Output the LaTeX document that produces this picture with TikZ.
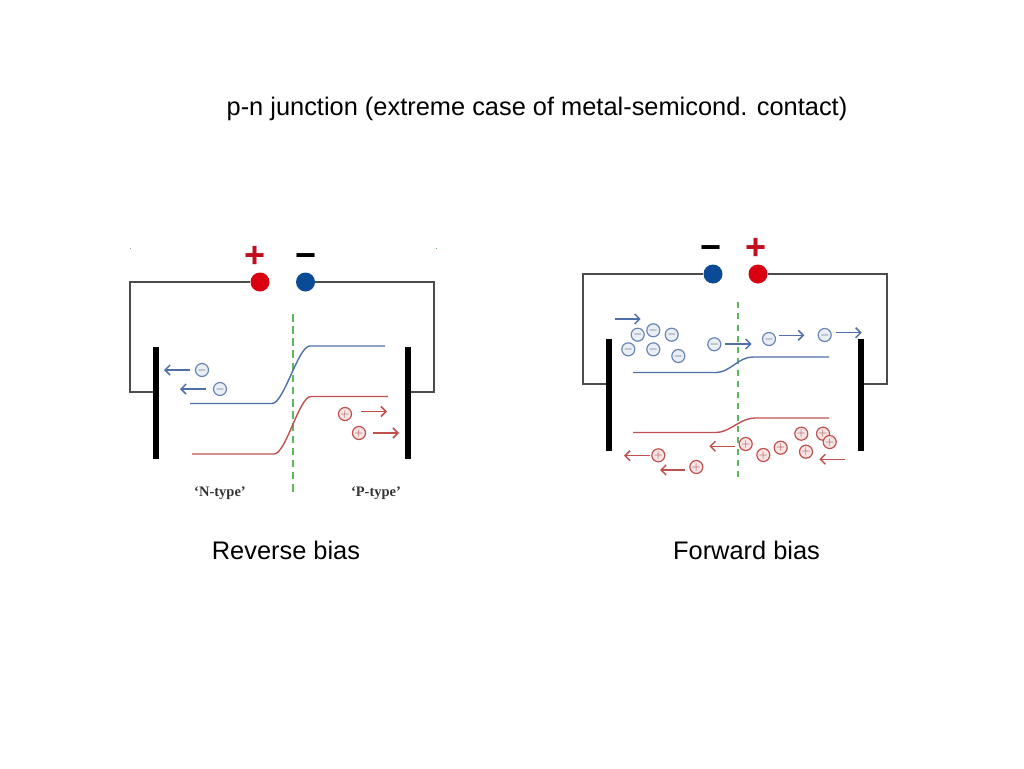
\documentclass[tikz,border=0pt]{standalone}
\usepackage{fontspec}
\setmainfont{Liberation Sans}
\newfontfamily\serifface{Liberation Serif}
\usetikzlibrary{arrows.meta}
\definecolor{elecblue}{HTML}{4F6FA8}
\definecolor{holered}{HTML}{C0504D}
\definecolor{termblue}{HTML}{0B4A96}
\definecolor{termred}{HTML}{D9000F}
\definecolor{signred}{HTML}{C00F1F}
\definecolor{junctgreen}{HTML}{5DB85C}
\tikzset{
  wire/.style={draw=black!70,line width=1.5pt},
  plate/.style={draw=none,fill=black,minimum width=6pt,inner sep=0pt},
  term/.style={circle,minimum size=19pt,inner sep=0pt},
  sign/.style={inner sep=0pt,font=\fontsize{36}{36}\selectfont\bfseries},
  junct/.style={draw=junctgreen,line width=1.6pt,dash pattern=on 7.5pt off 4.65pt},
  elec/.style={draw=elecblue!85,fill=elecblue!12,circle,line width=1.2pt,minimum size=13pt,inner sep=0pt,text=elecblue!60!black,font=\fontsize{12}{12}\selectfont},
  hole/.style={draw=holered,fill=holered!15,circle,line width=1.2pt,minimum size=13pt,inner sep=0pt,text=holered!80!black,font=\fontsize{12}{12}\selectfont},
  elecarrow/.style={-{Straight Barb[length=5pt,width=10pt]},draw=elecblue,line width=1.5pt},
  holearrow/.style={-{Straight Barb[length=5pt,width=10pt]},draw=holered,line width=1.5pt},
  caption/.style={inner sep=0pt,font=\fontsize{25.4}{29}\selectfont},
  typelabel/.style={inner sep=0pt,text=black!80,font=\fontsize{14.5}{16}\selectfont\serifface\bfseries}
}
\begin{document}
\begin{tikzpicture}[x=1pt,y=-1pt]
  \useasboundingbox (0,0) rectangle (1024,768);
  \node[caption] (title) at (537,108.5) {p-n junction (extreme case of metal-semicond. contact)};
  \node[caption] (rev) at (286,550.5) {Reverse bias};
  \node[caption] (fwd) at (746.5,550.5) {Forward bias};

  % reverse bias
  \fill[black!40] (129.5,247.5) rectangle (130.5,248.5);
  \fill[junctgreen] (435.5,247.5) rectangle (436.5,248.5);
  \node[term,fill=termred] (rplus) at (260,282) {};
  \node[term,fill=termblue] (rminus) at (305.5,282) {};
  \node[sign,text=signred] (rps) at (255,257) {+};
  \node[sign,text=black] (rms) at (306,261) {−};
  \node[plate,minimum height=112pt] (rpl) at (156,403) {};
  \node[plate,minimum height=112pt] (rpr) at (408,403) {};
  \coordinate (rwl) at (130,392);
  \coordinate (rwr) at (434,392);
  \draw[wire] (rplus) -| (rwl) -- (rwl -| rpl.west);
  \draw[wire] (rminus) -| (rwr) -- (rwr -| rpr.east);
  \coordinate (rjt) at (293,314);
  \coordinate (rjb) at (293,491.6);
  \draw[junct] (rjt) -- (rjb);

  \coordinate (rb1) at (190,403.5);
  \coordinate (rb2) at (272,403.5);
  \coordinate (rb3) at (310,346);
  \coordinate (rb4) at (385,346);
  \draw[elecblue,line width=1.4pt] (rb1) -- (rb2) .. controls (284,403.5) and (298,346) .. (rb3) -- (rb4);
  \coordinate (rr1) at (192,454);
  \coordinate (rr2) at (274,454);
  \coordinate (rr3) at (311,396.5);
  \coordinate (rr4) at (388,396.5);
  \draw[holered,line width=1.4pt] (rr1) -- (rr2) .. controls (286,454) and (299,396.5) .. (rr3) -- (rr4);

  \node[elec] (re1) at (202,370) {$-$};
  \node[elec] (re2) at (220,389) {$-$};
  \node[hole] (rh1) at (345,414) {$+$};
  \node[hole] (rh2) at (359,433) {$+$};
  \draw[elecarrow] (190,370) -- (164,370);
  \draw[elecarrow] (206,389) -- (180,389);
  \draw[holearrow] (361,411.5) -- (387,411.5);
  \draw[holearrow] (373,433) -- (399,433);

  \node[typelabel] (ntype) at (220,493) {‘N-type’};
  \node[typelabel] (ptype) at (376,493) {‘P-type’};

  % forward bias
  \node[term,fill=termblue] (fminus) at (713,274) {};
  \node[term,fill=termred] (fplus) at (758,274) {};
  \node[sign,text=black] (fms) at (710.5,253) {−};
  \node[sign,text=signred] (fps) at (756,249) {+};
  \node[plate,minimum height=112pt] (fpl) at (609,395) {};
  \node[plate,minimum height=112pt] (fpr) at (861,395) {};
  \coordinate (fwl) at (583,384);
  \coordinate (fwr) at (887,384);
  \draw[wire] (fminus) -| (fwl) -- (fwl -| fpl.west);
  \draw[wire] (fplus) -| (fwr) -- (fwr -| fpr.east);
  \coordinate (fjt) at (738,302);
  \coordinate (fjb) at (738,477);
  \draw[junct,line width=1.3pt,dash pattern=on 6pt off 5.27pt] (fjt) -- (fjb);

  \coordinate (fb1) at (633,372.5);
  \coordinate (fb2) at (716,372.5);
  \coordinate (fb3) at (753,357);
  \coordinate (fb4) at (829,357);
  \draw[elecblue,line width=1.4pt] (fb1) -- (fb2) .. controls (730,372.5) and (738,357) .. (fb3) -- (fb4);
  \coordinate (fr1) at (633,432.5);
  \coordinate (fr2) at (716,432.5);
  \coordinate (fr3) at (755,418);
  \coordinate (fr4) at (829,418);
  \draw[holered,line width=1.4pt] (fr1) -- (fr2) .. controls (730,432.5) and (740,418) .. (fr3) -- (fr4);

  \node[elec] (fe1) at (637.7,334.7) {$-$};
  \node[elec] (fe2) at (653.3,330.3) {$-$};
  \node[elec] (fe3) at (671.7,334.7) {$-$};
  \node[elec] (fe4) at (628.3,349.3) {$-$};
  \node[elec] (fe5) at (653.3,349.3) {$-$};
  \node[elec] (fe6) at (678.3,356) {$-$};
  \node[elec] (fe7) at (714.3,344.3) {$-$};
  \node[elec] (fe8) at (769,339) {$-$};
  \node[elec] (fe9) at (824.7,335) {$-$};

  \node[hole] (fh1) at (745.7,444) {$+$};
  \node[hole] (fh2) at (801.3,433.7) {$+$};
  \node[hole] (fh3) at (823,433.7) {$+$};
  \node[hole] (fh4) at (829.7,442) {$+$};
  \node[hole] (fh5) at (780.7,447.7) {$+$};
  \node[hole] (fh6) at (763.3,455) {$+$};
  \node[hole] (fh7) at (806,451.7) {$+$};
  \node[hole] (fh8) at (658.3,455.3) {$+$};
  \node[hole] (fh9) at (696.3,467) {$+$};

  \draw[elecarrow] (615.3,319) -- (640.7,319);
  \draw[elecarrow] (725.3,344) -- (751.7,344);
  \draw[elecarrow] (779.3,335.3) -- (804.3,335.3);
  \draw[elecarrow] (835.7,332.7) -- (861.7,332.7);
  \draw[holearrow] (735,446.3) -- (709.3,446.3);
  \draw[holearrow] (845,459.3) -- (819.3,459.3);
  \draw[holearrow] (650,455.7) -- (624,455.7);
  \draw[holearrow] (685,470) -- (660,470);
\end{tikzpicture}
\end{document}
